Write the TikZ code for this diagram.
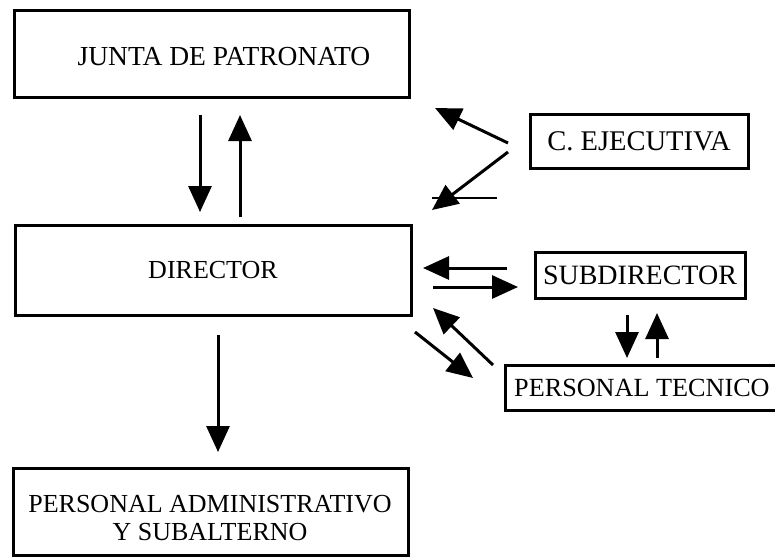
\documentclass[tikz,border=0pt]{standalone}
\usepackage{fontspec}
\setmainfont{Liberation Serif}
\usetikzlibrary{arrows.meta,calc}
\begin{document}
\begin{tikzpicture}[x=1pt,y=-1pt,
  box/.style={draw,line width=3pt,inner sep=0pt,outer sep=0pt},
  arr/.style={line width=3pt,-{Triangle[length=26pt,width=23pt]}},
  lbl/.style={font=\fontsize{26}{28}\selectfont,inner sep=0pt,align=center}]
\useasboundingbox (0,0) rectangle (775,558);
\fill[white] (0,0) rectangle (775,558);
% boxes
\node[box,minimum width=395pt,minimum height=87pt] (junta) at (211.5,53.5) {};
\node[lbl,font=\fontsize{27.5}{29}\selectfont] (juntat) at (224,57) {JUNTA DE PATRONATO};
\node[box,lbl,minimum width=396pt,minimum height=90pt] (director) at (213,270) {DIRECTOR};
\node[box,minimum width=395pt,minimum height=87pt] (admin) at (210.5,511.5) {};
\node[lbl] (admint) at (210,518) {PERSONAL ADMINISTRATIVO\\Y SUBALTERNO};
\node[box,lbl,font=\fontsize{28.5}{30}\selectfont,minimum width=218pt,minimum height=54pt] (ejec) at (639,141) {C. EJECUTIVA};
\node[box,lbl,font=\fontsize{28}{30}\selectfont,minimum width=210pt,minimum height=46pt] (sub) at (640,275) {SUBDIRECTOR};
\node[box,anchor=north west,minimum width=300pt,minimum height=45pt] (tec) at (505,365) {};
\node[lbl,font=\fontsize{26.2}{28}\selectfont,anchor=west] (tect) at (514,388) {PERSONAL TECNICO};
% vertical arrows on the left
\coordinate (xa) at (200,0);
\coordinate (xb) at (240,0);
\coordinate (xc) at (218,0);
\draw[arr,shorten <=18pt,shorten >=13pt] (junta.south -| xa) -- (director.north -| xa);
\draw[arr,shorten <=8pt,shorten >=18pt] (director.north -| xb) -- (junta.south -| xb);
\draw[arr,shorten <=20pt,shorten >=16pt] (director.south -| xc) -- (admin.north -| xc);
% C. EJECUTIVA arrows
\coordinate (e1) at (435,108);
\coordinate (e2) at (432,210);
\draw[arr] ($(ejec.west)+(-22,2)$) -- (e1);
\draw[arr] ($(ejec.west)+(-22,11)$) -- (e2);
\coordinate (h1) at (432,198);
\coordinate (h2) at (497,198);
\draw[line width=2.8pt] (h1) -- (h2);
% SUBDIRECTOR arrows
\draw[arr] ($(sub.west)+(-28,-7)$) -- ($(director.east)+(12,-2)$);
\draw[arr] ($(director.east)+(22,17)$) -- ($(sub.west)+(-17,12)$);
% PERSONAL TECNICO arrows
\draw[arr] ($(tec.north west)+(-12,0)$) -- ($(director.south east)+(22,-7)$);
\draw[arr] ($(director.south east)+(4,17)$) -- ($(tec.north west)+(-32,13)$);
\draw[arr] ($(sub.south)+(-13,17)$) -- ($(sub.south)+(-13,60)$);
\draw[arr] ($(sub.south)+(17,60)$) -- ($(sub.south)+(17,15)$);
\end{tikzpicture}
\end{document}
